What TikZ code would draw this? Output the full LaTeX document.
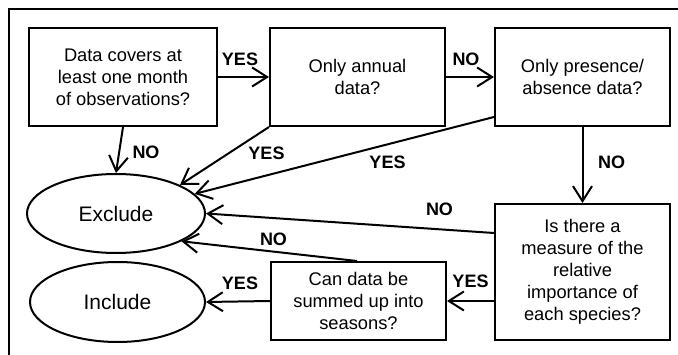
\documentclass[tikz,border=0pt]{standalone}
\usepackage{fontspec}
\setmainfont{Liberation Sans}
\usetikzlibrary{arrows.meta,shapes.geometric,calc}
\begin{document}
\begin{tikzpicture}[x=1pt,y=-1pt,line width=2pt,
  box/.style={draw,rectangle,align=center,inner sep=0pt,font=\fontsize{18.3}{22}\selectfont},
  term/.style={draw,ellipse,inner sep=0pt,font=\fontsize{21}{24}\selectfont},
  arr/.style={-{Straight Barb[length=15pt,width=19pt]}},
  lab/.style={inner sep=0pt,font=\bfseries\fontsize{18}{22}\selectfont}]
\useasboundingbox (0,0) rectangle (678,355);
\draw (690,9) -- (9,9) -- (9,370);
% nodes
\node[box,minimum width=188pt,minimum height=98pt] (b1) at (123,77) {Data covers at\\least one month\\of observations?};
\node[box,minimum width=175pt,minimum height=98pt] (b2) at (357.5,77) {Only annual\\data?};
\node[box,minimum width=175pt,minimum height=98pt] (b3) at (582.5,77) {Only presence/\\absence data?};
\node[box,minimum width=175pt,minimum height=136pt] (b4) at (582.5,272) {Is there a\\measure of the\\relative\\importance of\\each species?};
\node[box,minimum width=175pt,minimum height=78pt] (b5) at (358.5,301) {Can data be\\summed up into\\seasons?};
\node[term,minimum width=178pt,minimum height=79pt] (ex) at (116,213.5) {Exclude};
\node[term,minimum width=175pt,minimum height=80pt] (in) at (117.5,302) {Include};
% connectors
\draw[arr] (b1.east) -- (b2.west);
\draw[arr] (b2.east) -- (b3.west);
\draw[arr] (b1.south) -- (ex.north);
\draw[arr] (b2.south west) -- (ex.24);
\draw[arr] ([yshift=10pt]b3.south west) -- (ex.14.5);
\draw[arr] (b3.south) -- (b4.north);
\draw[arr] ([yshift=39pt]b4.west) -- (ex.east);
\draw[arr] ([xshift=-1.5pt]b5.north) -- (ex.-23);
\draw[arr] (b4.west |- b5.east) -- (b5.east);
\draw[arr] (b5.west) -- (in.east);
% labels
\node[lab] (l1) at (240,59) {YES};
\node[lab] (l2) at (466,59) {NO};
\node[lab] (l3) at (146,152.5) {NO};
\node[lab] (l4) at (266.5,153.5) {YES};
\node[lab] (l5) at (387.5,162.5) {YES};
\node[lab] (l6) at (611.5,162.5) {NO};
\node[lab] (l7) at (439.5,209) {NO};
\node[lab] (l8) at (273.5,239) {NO};
\node[lab] (l9) at (240,283.5) {YES};
\node[lab] (l10) at (470.5,281.5) {YES};
\end{tikzpicture}
\end{document}
